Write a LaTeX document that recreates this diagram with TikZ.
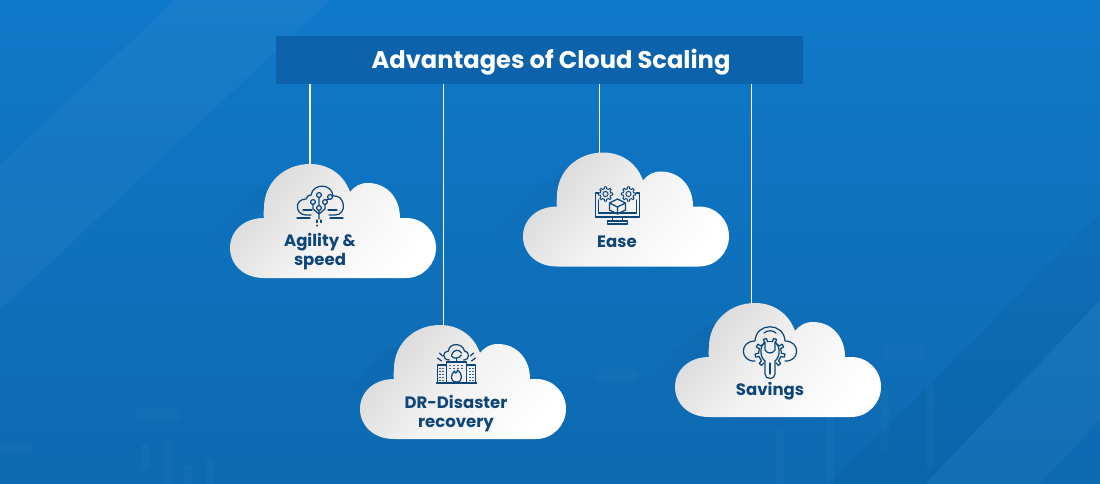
\documentclass[tikz,border=0pt]{standalone}
\usepackage{fontspec}
\setmainfont{Poppins}
\usetikzlibrary{positioning,calc,fadings}
\definecolor{navy}{HTML}{0F4679}
\definecolor{bgtop}{HTML}{0F79C9}
\definecolor{bglow}{HTML}{0D69B0}
\definecolor{barblue}{HTML}{0C63AB}
% cog outline: centre x, centre y, body radius
\newcommand{\cogring}[3]{
    \begin{scope}[shift={(#1,#2)}]
    \foreach \ca in {0,45,...,315}
        \draw[icon,line width=0.55pt] (\ca-12:#3) -- (\ca-8:#3*1.32) -- (\ca+8:#3*1.32) -- (\ca+12:#3) -- (\ca+33:#3);
    \end{scope}
}
\tikzset{
    cloudlabel/.style={text=navy,font=\bfseries\fontsize{9.4}{10.6}\selectfont,align=center,inner sep=0pt},
    icon/.style={draw=navy,line width=0.7pt,line cap=round,line join=round},
    hanger/.style={draw=white,line width=0.65pt},
    band/.style={fill=#1,opacity=0.035},
    candle/.style={fill=white,opacity=0.025},
    % the cloud itself, (0,0) is the top of the big bump
    pics/cloudshape/.style={code={
        \fill[navy,opacity=0.10,path fading=south] (-46,44) -- (-20,10) -- (-60,30) -- (-120,90) -- (-80,84) -- cycle;
        \path[shade,top color=black!15,bottom color=white,middle color=black!5,shading angle=50]
            (-46,114) .. controls (-67,114) and (-80,100) .. (-80,84)
            .. controls (-80,67) and (-66,54) .. (-46,54)
            .. controls (-47,50) and (-46,47) .. (-46,44)
            .. controls (-46,18) and (-25,0) .. (0,0)
            .. controls (19,0) and (34,11) .. (40,28)
            .. controls (45,22) and (50,19) .. (58,19)
            .. controls (76,19) and (90,33) .. (90,54)
            -- (96,54) .. controls (113,54) and (126,67) .. (126,84)
            .. controls (126,100) and (113,114) .. (96,114) -- cycle;
    }},
    pics/agilityicon/.style={code={
        \draw[icon] (-9,7) -- (-14,7) .. controls (-25,7) and (-26,-9) .. (-14,-9)
            .. controls (-13,-12) and (-11,-13) .. (-9,-13)
            .. controls (-7,-25) and (12,-25) .. (13,-12)
            .. controls (25,-14) and (28,7) .. (15,7) -- (9,7);
        \draw[icon] (-23,10) -- (-10,10) (23,10) -- (10,10);
        \draw[icon] (-17,2) -- (-8,2) (17,2) -- (8,2);
        \draw[icon] (-1,11) -- (-1,2) (-1,-3) -- (-1,-10) (-1,6) -- (-7,1) -- (-7,-4) (-1,6) -- (5,1) -- (5,-3) (6,-8) -- (9,-9);
        \foreach \px/\py in {-7/-6,-1/-13,5/-6,10/-11,-1/0}
            \draw[icon] (\px,\py) circle (2.4);
        \draw[icon,dash pattern=on 1.4pt off 1.6pt] (-3,12) -- (-3,18) (1,12) -- (1,17);
    }},
    pics/dricon/.style={code={
        \draw[icon] (-7,-4) .. controls (-15,-4) and (-14,-13) .. (-8,-13)
            .. controls (-8,-21) and (6,-22) .. (8,-13)
            .. controls (13,-13) and (14,-4) .. (7,-4);
        \draw[icon] (-5,-9) .. controls (-3,-15) and (3,-15) .. (5,-11) (5,-9) .. controls (2,-5) and (-3,-5) .. (-5,-8);
        \draw[icon] (-20,19) -- (20,19);
        \draw[icon] (-10,19) -- (-10,-2) -- (10,-2) -- (10,19);
        \draw[icon] (-19,19) -- (-19,1) -- (-10,1) (19,19) -- (19,1) -- (10,1);
        \draw[icon] (0,-6) -- (0,-2);
        \draw[icon] (-19,-6) -- (-15,-3) (19,-6) -- (15,-3) (-14,-8) -- (-17,-11) (14,-8) -- (17,-11);
        \draw[icon] (0,18) .. controls (-7,18) and (-6,10) .. (-2,7) .. controls (-1,10) and (0,10) .. (1,6) .. controls (6,9) and (7,18) .. (0,18);
        \foreach \wx in {-17,-14} \foreach \wy in {4,7,10,13,16}
            \draw[icon,line width=0.5pt] (\wx,\wy) -- ++(1,0) (\wx+30,\wy) -- ++(1,0);
        \foreach \wx in {-7,-3,1,5} \foreach \wy in {1,4}
            \draw[icon,line width=0.5pt] (\wx,\wy) -- ++(1,0);
    }},
    pics/easeicon/.style={code={
        \draw[icon] (-19,-13) -- (-22,-13) -- (-22,11) -- (22,11) -- (22,-13) -- (19,-13);
        \draw[icon] (-19,-6) -- (-19,7) -- (19,7) -- (19,-6);
        \draw[icon] (-5,11) -- (-5,15) (5,11) -- (5,15) (-10,15) -- (10,15) -- (10,18) -- (-10,18) -- cycle;
        \draw[icon] (0,-7) -- (8,-3) -- (8,4) -- (0,8) -- (-8,4) -- (-8,-3) -- cycle
            (-8,-3) -- (0,1) -- (8,-3) (0,1) -- (0,8);
        \foreach \gx in {-12,11} {
            \draw[icon,line width=0.55pt] (\gx,-12) circle (2.6);
            \cogring{\gx}{-12}{5.4}
        }
    }},
    pics/savingsicon/.style={code={
        \draw[icon] (-15,8) .. controls (-30,9) and (-31,-12) .. (-15,-12)
            .. controls (-14,-31) and (14,-31) .. (15,-12)
            .. controls (31,-12) and (30,9) .. (15,8);
        \draw[icon] (-6,-20) .. controls (-3,-23) and (3,-23) .. (6,-20);
        \foreach \ga in {-150,-110,-70,-30,10,50,130,170}
            \draw[icon] (\ga-8:11.5) -- (\ga-6:15) -- (\ga+6:15) -- (\ga+8:11.5);
        \foreach \ga in {-150,-110,-70,-30,10,130,170}
            \draw[icon] (\ga+8:11.5) -- (\ga+32:11.5);
        \draw[icon] (-5,-11) .. controls (-11,-6) and (-10,4) .. (-5,8) -- (-5,21)
            .. controls (-5,27) and (5,27) .. (5,21) -- (5,8)
            .. controls (10,4) and (11,-6) .. (5,-11) -- (5,-3)
            .. controls (3,1) and (-3,1) .. (-5,-3) -- cycle;
        \draw[icon] (0,10) -- (0,21);
    }},
}
\begin{document}
\begin{tikzpicture}[x=0.02cm,y=-0.02cm]
    \useasboundingbox (0,0) rectangle (1100,484);
    % background
    \fill[top color=bgtop,bottom color=bglow] (0,0) rectangle (1100,484);
    \fill[band=white] (0,165) -- (175,0) -- (330,0) -- (0,310) -- cycle;
    \fill[band=black] (830,484) -- (1100,215) -- (1100,300) -- (925,484) -- cycle;
    \fill[band=white] (925,484) -- (1100,300) -- (1100,420) -- (1040,484) -- cycle;
    % faint chart behind the clouds
    \foreach \cx/\ca/\cb in {145/445/470,168/440/484,188/465/484,210/460/484,780/430/484,830/400/484,885/390/450,930/385/470}
        \fill[candle] (\cx-4,\ca) rectangle (\cx+4,\cb);
    \foreach \tx/\ty in {158/415,905/353,617/376,10/448}
        \fill[candle,rounded corners=3pt] (\tx-22,\ty-7) rectangle (\tx+22,\ty+7);

    % title bar
    \node[fill=barblue,minimum width=10.54cm,minimum height=0.96cm,inner sep=0pt] (title) at (539.5,60) {};
    \node[text=white,font=\bfseries\fontsize{13.75}{16}\selectfont,inner sep=0pt] (titletext) at (551,62) {Advantages of Cloud Scaling};

    % where the clouds hang
    \coordinate (agility) at (310,164);
    \coordinate (disaster) at (443.5,325);
    \coordinate (ease) at (599.5,153);
    \coordinate (savings) at (751.5,304);

    \draw[hanger] (title.south -| agility) -- (agility);
    \draw[hanger] (title.south -| disaster) -- (disaster);
    \draw[hanger] (title.south -| ease) -- (ease);
    \draw[hanger] (title.south -| savings) -- (savings);

    \pic at (310,164) {cloudshape};
    \pic at (440,325) {cloudshape};
    \pic at (603,152.5) {cloudshape};
    \pic at (755,303) {cloudshape};

    \pic at (320,208) {agilityicon};
    \pic at (456.5,364) {dricon};
    \pic at (617.5,206) {easeicon};
    \pic at (770,353) {savingsicon};

    \node[cloudlabel] (agilitytext) at (320,251.5) {Agility \&\\speed};
    \node[cloudlabel] (disastertext) at (456,413.5) {DR-Disaster\\recovery};
    \node[cloudlabel] (easetext) at (617,242) {Ease};
    \node[cloudlabel] (savingstext) at (770,391.5) {Savings};
\end{tikzpicture}
\end{document}
